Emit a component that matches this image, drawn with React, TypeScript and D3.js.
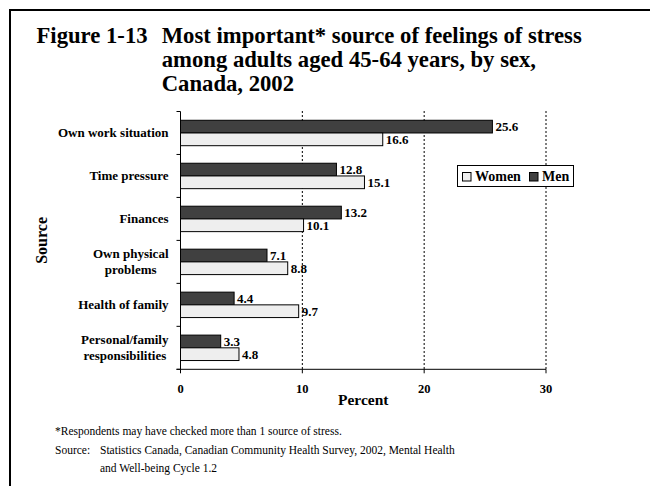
import * as d3 from "d3";

const categories = [
  "Own work situation",
  "Time pressure",
  "Finances",
  "Own physical problems",
  "Health of family",
  "Personal/family responsibilities",
];
const categoryLines = [
  ["Own work situation"],
  ["Time pressure"],
  ["Finances"],
  ["Own physical", "problems"],
  ["Health of family"],
  ["Personal/family", "responsibilities"],
];
const menValues = [25.6, 12.8, 13.2, 7.1, 4.4, 3.3];
const womenValues = [16.6, 15.1, 10.1, 8.8, 9.7, 4.8];
const xTicks = [0, 10, 20, 30];
const seriesNames = ["Men", "Women"];
const legendOrder = ["Women", "Men"];

const titleLines = [
  "Most important* source of feelings of stress",
  "among adults aged 45-64 years, by sex,",
  "Canada, 2002",
];
const noteLines = [
  "Statistics Canada, Canadian Community Health Survey, 2002, Mental Health",
  "and Well-being Cycle 1.2",
];

const W = 650;
const H = 486;
const serif = "'Liberation Serif', 'Times New Roman', serif";
const colors: Record<string, string> = { Men: "#404040", Women: "#eeeeee" };

let ctx: CanvasRenderingContext2D | null = null;
function measure(text: string, font: string) {
  if (!ctx) ctx = document.createElement("canvas").getContext("2d");
  if (!ctx) return text.length * 6;
  ctx.font = font;
  return ctx.measureText(text).width;
}

export default function App() {
  const x = d3.scaleLinear().domain([0, 30]).range([180.5, 546]);
  const y = d3.scaleBand().domain(categories).range([111.5, 369.3]).padding(0);
  const sub = d3
    .scaleBand()
    .domain(seriesNames)
    .range([0, y.bandwidth()])
    .paddingOuter(0.69);

  const rows = categories.map((c, i) => ({
    cat: c,
    lines: categoryLines[i],
    Men: menValues[i],
    Women: womenValues[i],
  }));

  const labelFont = `bold 13px ${serif}`;
  const labelRight = 168.5;
  const y0 = y.range()[0];
  const y1 = y.range()[1];
  const bandEdges = [...categories.map((c) => y(c)!), y1];

  return (
    <svg
      width={W}
      height={H}
      style={{ position: "absolute", left: 0, top: 0, background: "#fff" }}
      fontFamily={serif}
    >
      <rect x={0} y={0} width={W} height={H} fill="#fff" />
      {/* frame, open on the right and bottom */}
      <path d={`M10,${H + 5}V10H${W + 5}`} fill="none" stroke="#000" strokeWidth={2} />

      {/* title */}
      <g fontWeight="bold" fontSize={22.7} fill="#000">
        <text x={36.5} y={43.3}>Figure 1-13</text>
        {titleLines.map((t, i) => (
          <text key={i} x={161.7} y={43.3 + i * 24}>
            {t}
          </text>
        ))}
      </g>

      {/* dotted gridlines */}
      {xTicks.slice(1).map((t) => (
        <line
          key={t}
          x1={x(t)}
          x2={x(t)}
          y1={y0 - 0.5}
          y2={y1}
          stroke="#000"
          strokeWidth={1}
          strokeDasharray="2,2"
        />
      ))}

      {/* bars */}
      {rows.map((r) =>
        seriesNames.map((s) => {
          const v = (r as any)[s] as number;
          const top = y(r.cat)! + sub(s)!;
          return (
            <g key={r.cat + s}>
              <rect
                x={x(0)}
                y={top}
                width={x(v) - x(0)}
                height={sub.bandwidth()}
                fill={colors[s]}
                stroke="#000"
                strokeWidth={1}
              />
              <text
                x={x(v) + 3}
                y={top + sub.bandwidth() - 1.5}
                fontSize={13}
                fontWeight="bold"
              >
                {v.toFixed(1)}
              </text>
            </g>
          );
        }),
      )}

      {/* category axis */}
      <line x1={x(0)} x2={x(0)} y1={y0} y2={y1} stroke="#000" />
      {bandEdges.map((e, i) => (
        <line key={i} x1={x(0) - 4} x2={x(0)} y1={e} y2={e} stroke="#000" />
      ))}
      {rows.map((r) => {
        const widths = r.lines.map((l) => measure(l, labelFont));
        const maxW = Math.max(...widths);
        const cx = labelRight - maxW / 2;
        const cy = y(r.cat)! + y.bandwidth() / 2;
        const lh = 15.6;
        const first = cy + 4.3 - ((r.lines.length - 1) * lh) / 2;
        return (
          <text
            key={r.cat}
            fontSize={13}
            fontWeight="bold"
            textAnchor="middle"
          >
            {r.lines.map((l, i) => (
              <tspan key={i} x={cx} y={first + i * lh}>
                {l}
              </tspan>
            ))}
          </text>
        );
      })}
      <text
        transform={`translate(46.5,${(y0 + y1) / 2}) rotate(-90)`}
        textAnchor="middle"
        fontSize={16}
        fontWeight="bold"
      >
        Source
      </text>

      {/* value axis */}
      <line x1={x(0) - 4} x2={x(30)} y1={y1} y2={y1} stroke="#000" />
      {xTicks.map((t) => (
        <g key={t}>
          <line x1={x(t)} x2={x(t)} y1={y1} y2={y1 + 4} stroke="#000" />
          <text
            x={x(t)}
            y={393}
            textAnchor="middle"
            fontSize={12.5}
            fontWeight="bold"
          >
            {t}
          </text>
        </g>
      ))}
      <text
        x={(x(0) + x(30)) / 2}
        y={405}
        textAnchor="middle"
        fontSize={15.5}
        fontWeight="bold"
      >
        Percent
      </text>

      {/* legend */}
      <g transform="translate(457,165)">
        <rect x={0.5} y={0.5} width={116} height={21} fill="#fff" stroke="#000" />
        {legendOrder.map((s, i) => {
          const off = i === 0 ? 5.5 : 72.5;
          return (
            <g key={s} transform={`translate(${off},7.5)`}>
              <rect
                x={0}
                y={0}
                width={8.5}
                height={8.5}
                fill={colors[s]}
                stroke="#000"
              />
              <text x={12.5} y={8.5} fontSize={14} fontWeight="bold">
                {s}
              </text>
            </g>
          );
        })}
      </g>

      {/* notes */}
      <g fontSize={11.5} fill="#000">
        <text x={55} y={435}>
          *Respondents may have checked more than 1 source of stress.
        </text>
        <text x={55} y={454}>
          Source:
        </text>
        {noteLines.map((t, i) => (
          <text key={i} x={100} y={454 + i * 17.5}>
            {t}
          </text>
        ))}
      </g>
    </svg>
  );
}
